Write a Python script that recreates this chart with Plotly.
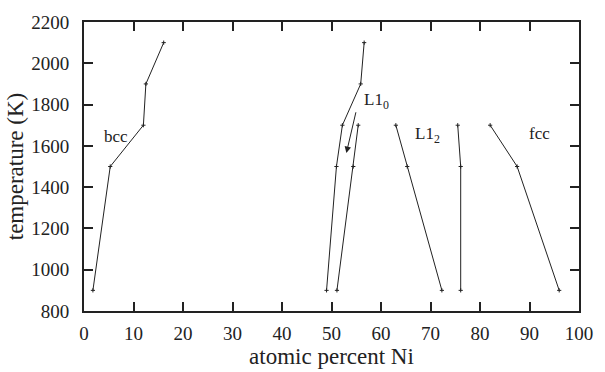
import plotly.graph_objects as go

# phase boundary data (atomic percent Ni, temperature K)
bcc_x = [1.8, 5.3, 12.0, 12.5, 16.1]
bcc_T = [900, 1500, 1700, 1900, 2100]

l10_left_x = [49.0, 51.0, 52.2, 55.9, 56.6]
l10_left_T = [900, 1500, 1700, 1900, 2100]

l10_right_x = [51.1, 54.4, 55.4]
l10_right_T = [900, 1500, 1700]

l12_left_x = [72.3, 65.3, 63.0]
l12_left_T = [900, 1500, 1700]

l12_right_x = [76.1, 76.1, 75.5]
l12_right_T = [900, 1500, 1700]

fcc_x = [96.0, 87.5, 82.05]
fcc_T = [900, 1500, 1700]

x_ticks = [0, 10, 20, 30, 40, 50, 60, 70, 80, 90, 100]
y_ticks = [800, 1000, 1200, 1400, 1600, 1800, 2000, 2200]

labels = ["bcc", "L1<sub>0</sub>", "L1<sub>2</sub>", "fcc"]
label_x = [6.5, 56.2, 66.4, 92.0]
label_T = [1645, 1815, 1655, 1660]
label_anchor = ["center", "left", "left", "center"]

arrow_from = (55.0, 1770)
arrow_to = (53.0, 1565)

FONT = "Liberation Serif"
INK = "#222"

fig = go.Figure()
for xs, ts in [(bcc_x, bcc_T), (l10_left_x, l10_left_T), (l10_right_x, l10_right_T),
               (l12_left_x, l12_left_T), (l12_right_x, l12_right_T), (fcc_x, fcc_T)]:
    fig.add_trace(go.Scatter(
        x=xs, y=ts, mode="lines+markers",
        line=dict(color=INK, width=1),
        marker=dict(symbol="cross-thin", size=3, line=dict(color=INK, width=1)),
        showlegend=False, hoverinfo="skip"))

for t, x, y, a in zip(labels, label_x, label_T, label_anchor):
    fig.add_annotation(x=x, y=y, text=t, showarrow=False, xanchor=a, yanchor="middle",
                       font=dict(family=FONT, size=17, color=INK))

fig.add_annotation(x=arrow_to[0], y=arrow_to[1], ax=arrow_from[0], ay=arrow_from[1],
                   xref="x", yref="y", axref="x", ayref="y", text="",
                   showarrow=True, arrowhead=2, arrowsize=1.3, arrowwidth=1, arrowcolor=INK)

axis_common = dict(showline=True, linecolor=INK, linewidth=2, mirror="ticks",
                   ticks="inside", ticklen=9, tickwidth=1.5, tickcolor=INK,
                   showgrid=False, zeroline=False,
                   tickfont=dict(family=FONT, size=19, color=INK))

fig.update_xaxes(range=[0, 100], tickvals=x_ticks, ticktext=[str(v) for v in x_ticks],
                 ticklabelstandoff=4,
                 title=dict(text="atomic percent Ni", font=dict(family=FONT, size=23, color=INK),
                            standoff=0),
                 **axis_common)
fig.update_yaxes(range=[800, 2200], tickvals=y_ticks, ticktext=[str(v) for v in y_ticks],
                 ticklabelstandoff=9,
                 title=dict(text="temperature (K)", font=dict(family=FONT, size=23, color=INK),
                            standoff=1),
                 **axis_common)

fig.update_layout(width=605, height=372, margin=dict(l=84, r=15, t=12, b=58),
                  plot_bgcolor="white", paper_bgcolor="white")

fig.write_html("out.html", config={"displayModeBar": False},
               post_script="document.body.style.margin='0';document.body.style.overflow='hidden';")
